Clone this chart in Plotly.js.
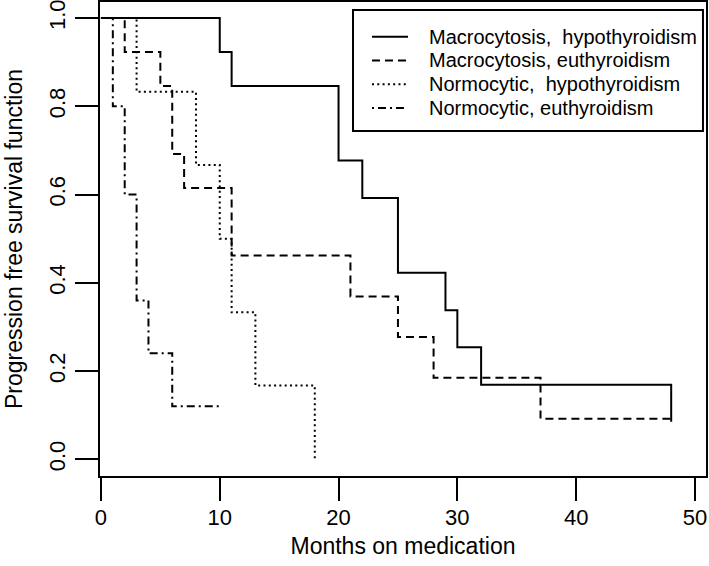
<!DOCTYPE html>
<html>
<head>
<meta charset="utf-8">
<script src="https://cdn.plot.ly/plotly-3.0.1.min.js"></script>
<style>html,body{margin:0;padding:0;background:#fff;}#chart{width:709px;height:566px;}</style>
</head>
<body>
<div id="chart"></div>
<script>
// Kaplan-Meier step data (months, survival)
var macroHypoT = [0, 10, 11, 20, 22, 25, 29, 30, 32, 48];
var macroHypoS = [1, 0.923, 0.846, 0.677, 0.592, 0.423, 0.338, 0.254, 0.169, 0.085];

var macroEuT = [0, 2, 5, 6, 7, 11, 21, 25, 28, 37, 48];
var macroEuS = [1, 0.923, 0.846, 0.692, 0.615, 0.462, 0.369, 0.277, 0.185, 0.092, 0.092];

var normoHypoT = [0, 3, 8, 10, 11, 13, 18];
var normoHypoS = [1, 0.833, 0.667, 0.5, 0.333, 0.167, 0];

var normoEuT = [0, 1, 2, 3, 4, 6, 10];
var normoEuS = [1, 0.8, 0.6, 0.36, 0.24, 0.12, 0.12];

var seriesNames = ["Macrocytosis,\u00a0 hypothyroidism", "Macrocytosis, euthyroidism",
                   "Normocytic,\u00a0 hypothyroidism", "Normocytic, euthyroidism"];
var xTicks = [0, 10, 20, 30, 40, 50];
var yTicks = [0, 0.2, 0.4, 0.6, 0.8, 1.0];

var FONT = "Liberation Sans, Arial, sans-serif";
var dashes = ["solid", "8px,5px", "2px,3.3px", "2px,4px,8px,4px"];
var seriesT = [macroHypoT, macroEuT, normoHypoT, normoEuT];
var seriesS = [macroHypoS, macroEuS, normoHypoS, normoEuS];

var data = seriesT.map(function (t, i) {
  return {x: t, y: seriesS[i], name: seriesNames[i], type: "scatter", mode: "lines",
          line: {shape: "hv", color: "#000", width: 2, dash: dashes[i]},
          hoverinfo: "skip", showlegend: false};
});

// manual legend (R style)
var legendRowsY = [0.9268, 0.8766, 0.8264, 0.7762];
var shapes = [{type: "rect", xref: "paper", yref: "paper",
               x0: 0.4175, x1: 0.995, y0: 0.7278, y1: 0.9831,
               line: {color: "#000", width: 2}, fillcolor: "rgba(0,0,0,0)"}];
var annotations = [];
seriesNames.forEach(function (nm, i) {
  shapes.push({type: "line", xref: "paper", yref: "paper",
               x0: 0.4488, x1: 0.5083, y0: legendRowsY[i], y1: legendRowsY[i],
               line: {color: "#000", width: 2, dash: dashes[i]}});
  annotations.push({xref: "paper", yref: "paper", x: 0.5396, y: legendRowsY[i],
                    xanchor: "left", yanchor: "middle", showarrow: false, text: nm,
                    font: {family: FONT, size: 20, color: "#000"}});
});

var layout = {
  width: 709, height: 566,
  margin: {l: 100, r: 3, t: 2, b: 90},
  paper_bgcolor: "#fff", plot_bgcolor: "#fff",
  font: {family: FONT, color: "#000", size: 22},
  showlegend: false,
  xaxis: {range: [-0.08, 50.93], tickvals: xTicks, ticks: "outside", ticklen: 23,
          tickwidth: 2, tickcolor: "#000", showgrid: false, zeroline: false,
          showline: true, mirror: true, linewidth: 2, linecolor: "#000",
          tickfont: {size: 22}, ticklabelstandoff: -2, ticklabeloverflow: "allow",
          title: {text: "Months on medication", font: {size: 23}, standoff: 8}},
  yaxis: {range: [-0.038, 1.0365], tickvals: yTicks, tickformat: ".1f", tickangle: -90,
          ticks: "outside", ticklen: 23, tickwidth: 2, tickcolor: "#000",
          showgrid: false, zeroline: false, showline: true, mirror: true,
          linewidth: 2, linecolor: "#000", tickfont: {size: 22}, ticklabelstandoff: 1,
          ticklabeloverflow: "allow",
          title: {text: "Progression free survival function", font: {size: 23}, standoff: 16}},
  shapes: shapes,
  annotations: annotations
};
Plotly.newPlot("chart", data, layout, {displayModeBar: false, staticPlot: true});
</script>
</body>
</html>
